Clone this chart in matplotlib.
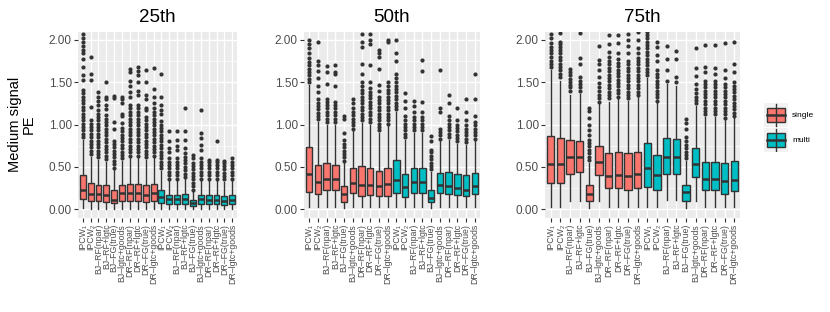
import matplotlib
matplotlib.use("Agg")
import matplotlib.pyplot as plt
from matplotlib.patches import Rectangle

plt.rcParams["font.family"] = ["Liberation Sans", "DejaVu Sans"]

methods = ["IPCW\u2081", "IPCW\u2082", "BJ\u2013RF(npar)", "BJ\u2013RF+lgtc", "BJ\u2013FG(true)",
           "BJ\u2013lgtc+goods", "DR\u2013RF(npar)", "DR\u2013RF+lgtc", "DR\u2013FG(true)", "DR\u2013lgtc+goods"]
groups = ["single", "multi"]
tick_labels = methods + methods
panel_titles = ["25th", "50th", "75th"]

# ---- 25th percentile ----
q1_25 = [0.114, 0.09, 0.09, 0.087, 0.067, 0.09, 0.09, 0.09, 0.087, 0.09,
         0.067, 0.06, 0.06, 0.06, 0.035, 0.06, 0.06, 0.06, 0.05, 0.06]
med_25 = [0.23, 0.18, 0.18, 0.17, 0.11, 0.185, 0.185, 0.185, 0.17, 0.185,
          0.145, 0.115, 0.115, 0.115, 0.075, 0.115, 0.11, 0.11, 0.10, 0.11]
q3_25 = [0.40, 0.31, 0.29, 0.28, 0.225, 0.28, 0.30, 0.30, 0.29, 0.30,
         0.225, 0.17, 0.17, 0.18, 0.105, 0.17, 0.17, 0.17, 0.16, 0.17]
lo_25 = [0.01, 0.005, 0.005, 0.005, 0.0, 0.005, 0.005, 0.005, 0.005, 0.005,
         0.005, 0.0, 0.0, 0.0, 0.0, 0.0, 0.0, 0.0, 0.0, 0.0]
hi_25 = [0.82, 0.62, 0.58, 0.56, 0.46, 0.57, 0.60, 0.60, 0.58, 0.60,
         0.45, 0.33, 0.33, 0.35, 0.20, 0.33, 0.33, 0.33, 0.32, 0.33]
out_25 = [
    [0.85, 0.89, 0.93, 0.97, 1.01, 1.05, 1.09, 1.13, 1.17, 1.21, 1.25, 1.29, 1.33, 1.37, 1.41,
     1.53, 1.58, 1.68, 1.78, 1.84, 1.88, 1.93, 1.97, 2.02, 2.07],
    [0.65, 0.69, 0.73, 0.77, 0.81, 0.85, 0.89, 0.93, 0.97, 1.01, 1.05, 1.21, 1.53, 1.60, 1.80],
    [0.61, 0.65, 0.69, 0.73, 0.77, 0.81, 0.85, 0.89, 0.93, 0.97, 1.01, 1.05, 1.09, 1.13, 1.17,
     1.23, 1.28, 1.33, 1.38],
    [0.59, 0.63, 0.67, 0.71, 0.75, 0.79, 0.83, 0.87, 0.91, 0.95, 0.99, 1.03, 1.07, 1.11, 1.18,
     1.23, 1.30, 1.33, 1.50],
    [0.49, 0.53, 0.57, 0.61, 0.65, 0.69, 0.73, 0.77, 0.81, 0.95, 1.03, 1.31, 1.34],
    [0.60, 0.64, 0.68, 0.72, 0.76, 0.80, 0.84, 0.88, 0.92, 0.96, 1.02, 1.10, 1.13, 1.25, 1.30, 1.33],
    [0.63, 0.67, 0.71, 0.75, 0.79, 0.83, 0.87, 0.91, 0.95, 0.99, 1.03, 1.07, 1.11, 1.15, 1.19,
     1.23, 1.32, 1.38, 1.46, 1.52, 1.62, 1.66],
    [0.63, 0.67, 0.71, 0.75, 0.79, 0.83, 0.87, 0.91, 0.95, 0.99, 1.03, 1.07, 1.11, 1.15, 1.19,
     1.23, 1.35, 1.40, 1.50, 1.58, 1.63, 1.68],
    [0.61, 0.65, 0.69, 0.73, 0.77, 0.81, 0.85, 0.89, 0.93, 0.97, 1.01, 1.05, 1.09, 1.17, 1.20,
     1.30, 1.35, 1.50, 1.64],
    [0.63, 0.67, 0.71, 0.75, 0.79, 0.83, 0.87, 0.91, 0.95, 0.99, 1.03, 1.07, 1.11, 1.15, 1.19,
     1.25, 1.32, 1.42, 1.67],
    [0.48, 0.52, 0.56, 0.60, 0.64, 0.68, 0.72, 0.76, 0.80, 0.84, 0.88, 0.92, 0.96, 1.00, 1.04,
     1.12, 1.17, 1.23, 1.33, 1.60],
    [0.36, 0.40, 0.44, 0.48, 0.52, 0.56, 0.60, 0.67, 0.72, 0.80, 0.92],
    [0.36, 0.40, 0.44, 0.48, 0.52, 0.56, 0.60, 0.70, 0.75, 0.82, 0.92],
    [0.38, 0.42, 0.46, 0.50, 0.54, 0.58, 0.62, 0.66, 0.72, 0.82, 0.92, 1.20],
    [0.23, 0.27, 0.31, 0.35, 0.39, 0.43, 0.47, 0.51, 0.55, 0.60, 0.64],
    [0.36, 0.40, 0.44, 0.48, 0.52, 0.56, 0.60, 0.70, 0.76, 0.84, 0.90, 1.17],
    [0.36, 0.40, 0.44, 0.48, 0.52, 0.56, 0.58],
    [0.36, 0.40, 0.44, 0.48, 0.52, 0.56, 0.58, 0.80],
    [0.35, 0.39, 0.43, 0.47, 0.51, 0.55, 0.57],
    [0.36, 0.40, 0.44, 0.48, 0.52, 0.56, 0.60],
]

# ---- 50th percentile ----
q1_50 = [0.205, 0.175, 0.225, 0.22, 0.087, 0.185, 0.16, 0.165, 0.16, 0.16,
         0.185, 0.14, 0.195, 0.195, 0.08, 0.185, 0.18, 0.17, 0.15, 0.18]
med_50 = [0.41, 0.32, 0.355, 0.35, 0.175, 0.305, 0.29, 0.29, 0.275, 0.30,
          0.345, 0.265, 0.325, 0.325, 0.125, 0.285, 0.27, 0.25, 0.23, 0.27]
q3_50 = [0.73, 0.52, 0.54, 0.525, 0.27, 0.48, 0.51, 0.49, 0.455, 0.49,
         0.58, 0.42, 0.48, 0.48, 0.225, 0.43, 0.44, 0.41, 0.40, 0.43]
lo_50 = [0.02, 0.02, 0.03, 0.03, 0.01, 0.02, 0.02, 0.02, 0.02, 0.02,
         0.02, 0.02, 0.02, 0.02, 0.01, 0.02, 0.02, 0.02, 0.02, 0.02]
hi_50 = [1.47, 1.03, 1.00, 1.00, 0.54, 0.92, 1.02, 1.00, 0.90, 0.98,
         1.15, 0.82, 0.90, 0.90, 0.44, 0.80, 0.82, 0.77, 0.76, 0.80]
out_50 = [
    [1.50, 1.54, 1.58, 1.62, 1.66, 1.70, 1.74, 1.79, 1.84, 1.90, 1.95, 2.00],
    [1.06, 1.10, 1.14, 1.18, 1.22, 1.26, 1.30, 1.38, 1.45, 1.55, 1.63, 1.70, 1.75, 1.97],
    [1.03, 1.07, 1.11, 1.15, 1.19, 1.23, 1.27, 1.30, 1.48, 1.62, 1.69],
    [1.03, 1.07, 1.11, 1.15, 1.19, 1.23, 1.27, 1.45, 1.60, 1.62, 1.70],
    [0.57, 0.61, 0.65, 0.69, 0.73, 0.77, 0.82, 0.90, 1.07, 1.10],
    [0.95, 0.99, 1.03, 1.07, 1.11, 1.15, 1.20, 1.25, 1.30],
    [1.05, 1.09, 1.13, 1.17, 1.21, 1.25, 1.29, 1.33, 1.37, 1.41, 1.45, 1.50, 1.60, 1.72, 1.92,
     1.98, 2.07],
    [1.03, 1.07, 1.11, 1.15, 1.19, 1.23, 1.27, 1.31, 1.35, 1.39, 1.43, 1.50, 1.70, 1.95, 2.00, 2.07],
    [0.93, 0.97, 1.01, 1.05, 1.09, 1.13, 1.17, 1.21, 1.25, 1.29, 1.33, 1.40, 1.47, 1.66, 1.80,
     1.84, 1.88],
    [1.01, 1.05, 1.09, 1.13, 1.17, 1.21, 1.25, 1.29, 1.33, 1.37, 1.41, 1.45, 1.50, 1.97, 2.00],
    [1.18, 1.22, 1.26, 1.30, 1.34, 1.38, 1.42, 1.46, 1.50, 1.55, 1.60, 1.75, 1.85, 2.00],
    [0.85, 0.89, 0.93, 0.97, 1.01, 1.05, 1.10, 1.20, 1.28, 1.37],
    [0.93, 0.97, 1.01, 1.05, 1.09, 1.15, 1.22, 1.28],
    [0.93, 0.97, 1.01, 1.05, 1.09, 1.15, 1.27, 1.63, 1.76],
    [0.47, 0.51, 0.55, 0.59, 0.63, 0.67, 0.70, 0.80, 0.86],
    [0.83, 0.87, 0.91, 0.95, 1.15, 1.20, 1.64],
    [0.85, 0.89, 0.93, 0.97, 1.01, 1.05, 1.10, 1.25, 1.35],
    [0.80, 0.84, 0.88, 0.92, 0.96, 1.00, 1.05, 1.20],
    [0.79, 0.83, 0.87, 0.91, 0.95, 0.99, 1.05, 1.15, 1.30],
    [0.83, 0.87, 0.91, 0.95, 0.99, 1.03, 1.10, 1.30, 1.60],
]

# ---- 75th percentile ----
q1_75 = [0.31, 0.305, 0.42, 0.44, 0.094, 0.40, 0.245, 0.245, 0.22, 0.25,
         0.26, 0.22, 0.41, 0.41, 0.10, 0.38, 0.22, 0.22, 0.18, 0.21]
med_75 = [0.53, 0.53, 0.62, 0.62, 0.18, 0.56, 0.39, 0.40, 0.39, 0.42,
          0.49, 0.40, 0.61, 0.61, 0.20, 0.53, 0.35, 0.35, 0.33, 0.34]
q3_75 = [0.86, 0.84, 0.82, 0.81, 0.28, 0.74, 0.66, 0.68, 0.66, 0.68,
         0.78, 0.64, 0.84, 0.83, 0.29, 0.72, 0.56, 0.56, 0.54, 0.57]
lo_75 = [0.03, 0.03, 0.09, 0.10, 0.01, 0.10, 0.03, 0.03, 0.02, 0.03,
         0.03, 0.03, 0.11, 0.11, 0.01, 0.10, 0.03, 0.03, 0.02, 0.03]
hi_75 = [1.64, 1.52, 1.35, 1.36, 0.55, 1.24, 1.27, 1.30, 1.28, 1.32,
         1.55, 1.25, 1.48, 1.45, 0.57, 1.22, 1.09, 1.09, 1.05, 1.08]
out_75 = [
    [1.68, 1.72, 1.75, 1.80, 1.84, 1.88, 1.92, 1.96, 2.02, 2.07],
    [1.56, 1.60, 1.64, 1.68, 1.72, 1.76, 1.80, 1.84, 1.88, 1.92, 1.95, 1.98, 2.08],
    [1.40, 1.44, 1.47, 1.50, 1.54, 1.58, 1.62, 1.66],
    [1.40, 1.44, 1.48, 1.52, 1.56, 1.72, 1.79, 2.08],
    [0.58, 0.62, 0.66, 0.70, 0.74, 0.78, 0.82, 0.88, 0.93, 1.00, 1.08, 1.16, 1.20],
    [1.27, 1.31, 1.35, 1.40, 1.44, 1.49, 1.56, 1.64, 1.71, 1.76, 1.93],
    [1.31, 1.35, 1.39, 1.43, 1.47, 1.51, 1.55, 1.59, 1.63, 1.67, 1.71, 1.75, 1.80, 1.86, 1.95, 2.06],
    [1.33, 1.37, 1.41, 1.45, 1.49, 1.53, 1.57, 1.61, 1.65, 1.69, 1.73, 1.78, 1.85, 1.96, 2.06],
    [1.31, 1.35, 1.39, 1.43, 1.47, 1.51, 1.55, 1.59, 1.63, 1.67, 1.71, 1.75, 1.85, 1.93, 2.00, 2.07],
    [1.35, 1.39, 1.43, 1.47, 1.51, 1.55, 1.59, 1.63, 1.67, 1.71, 1.75, 1.79, 1.84, 1.90, 2.00, 2.10],
    [1.58, 1.62, 1.66, 1.70, 1.74, 1.78, 1.82, 1.86, 1.90, 1.94, 1.98, 2.02, 2.06, 2.10],
    [1.28, 1.32, 1.36, 1.40, 1.44, 1.48, 1.52, 1.56, 1.60, 1.65, 1.75, 1.82, 1.92, 1.97],
    [1.52, 1.65, 1.78, 1.93],
    [1.50, 1.56, 1.78, 1.87],
    [0.60, 0.64, 0.68, 0.72, 0.76, 0.80, 0.85, 0.95, 1.02, 1.07],
    [1.25, 1.29, 1.33, 1.37, 1.42, 1.48, 1.57, 1.67, 1.90],
    [1.12, 1.16, 1.20, 1.24, 1.28, 1.32, 1.36, 1.40, 1.44, 1.48, 1.52, 1.62, 1.68, 1.94],
    [1.12, 1.16, 1.20, 1.24, 1.28, 1.32, 1.36, 1.40, 1.44, 1.48, 1.52, 1.60, 1.67, 1.94],
    [1.08, 1.12, 1.16, 1.20, 1.24, 1.28, 1.32, 1.36, 1.40, 1.44, 1.48, 1.55, 1.65, 1.96],
    [1.10, 1.14, 1.18, 1.22, 1.26, 1.30, 1.34, 1.38, 1.42, 1.46, 1.50, 1.62, 1.72, 1.97],
]

panels = [
    (q1_25, med_25, q3_25, lo_25, hi_25, out_25),
    (q1_50, med_50, q3_50, lo_50, hi_50, out_50),
    (q1_75, med_75, q3_75, lo_75, hi_75, out_75),
]

colors = {"single": "#F8766D", "multi": "#00BFC4"}
box_group = ["single"] * len(methods) + ["multi"] * len(methods)

W, H = 830, 312
fig = plt.figure(figsize=(W / 100, H / 100), dpi=100)

# panel boxes in pixels (left, right), shared top/bottom
panel_px = [(78, 237), (304, 480), (545, 740)]
top_px, bot_px = 31.5, 217.5

for (x0, x1), title, (q1, med, q3, lo, hi, out) in zip(panel_px, panel_titles, panels):
    ax = fig.add_axes([x0 / W, (H - bot_px) / H, (x1 - x0) / W, (bot_px - top_px) / H])
    ax.set_facecolor("#EBEBEB")
    for s in ax.spines.values():
        s.set_visible(False)
    ax.set_axisbelow(True)

    stats = []
    for i in range(len(q1)):
        stats.append(dict(q1=q1[i], med=med[i], q3=q3[i], whislo=lo[i], whishi=hi[i], fliers=out[i]))
    pos = list(range(1, len(stats) + 1))
    bp = ax.bxp(stats, positions=pos, widths=0.75, patch_artist=True, showcaps=False,
                boxprops=dict(edgecolor="#333333", linewidth=1.0),
                medianprops=dict(color="#333333", linewidth=1.8),
                whiskerprops=dict(color="#333333", linewidth=1.0),
                flierprops=dict(marker="o", markerfacecolor="#333333", markeredgecolor="none",
                                markersize=3.0))
    for patch, g in zip(bp["boxes"], box_group):
        patch.set_facecolor(colors[g])
    for fl in bp["fliers"]:
        fl.set_clip_on(True)

    ax.set_xlim(0.4, len(stats) + 0.6)
    ax.set_ylim(-0.1, 2.1)
    ax.set_yticks([0, 0.5, 1.0, 1.5, 2.0])
    ax.set_yticklabels(["0.00", "0.50", "1.00", "1.50", "2.00"])
    ax.set_yticks([0.25, 0.75, 1.25, 1.75], minor=True)
    ax.set_xticks(pos)
    ax.set_xticklabels(tick_labels, rotation=90, fontsize=6.3, color="#4D4D4D")
    ax.tick_params(axis="y", which="major", labelsize=8.5, labelcolor="#4D4D4D",
                   color="#333333", length=3, width=0.8, pad=1.5)
    ax.tick_params(axis="y", which="minor", length=0)
    ax.tick_params(axis="x", color="#333333", length=3, width=0.8, pad=1.5)
    ax.grid(True, which="major", color="white", linewidth=1.0)
    ax.grid(True, which="minor", axis="y", color="white", linewidth=0.5)
    ax.set_title(title, fontsize=13.5, pad=7)

fig.text(22 / W, 1 - ((top_px + bot_px) / 2) / H, "Medium signal\nPE", rotation=90,
         ha="center", va="center", fontsize=10.5, linespacing=1.0)

# legend keys
lax = fig.add_axes([764 / W, (H - 152) / H, 24 / W, 49 / H])
lax.set_xlim(0, 24)
lax.set_ylim(49, 0)
lax.axis("off")
for k, g in enumerate(groups):
    y0 = k * 25
    lax.add_patch(Rectangle((0, y0), 24, 24, facecolor="#F2F2F2", edgecolor="none"))
    lax.plot([12, 12], [y0 + 1, y0 + 23], color="#333333", lw=1.0)
    lax.add_patch(Rectangle((3, y0 + 5), 18, 14, facecolor=colors[g], edgecolor="#333333", lw=1.0))
    lax.plot([3, 21], [y0 + 12, y0 + 12], color="#333333", lw=1.8)
    lax.text(28, y0 + 12, g, ha="left", va="center", fontsize=6, clip_on=False)

fig.savefig("out.png", dpi=100)
